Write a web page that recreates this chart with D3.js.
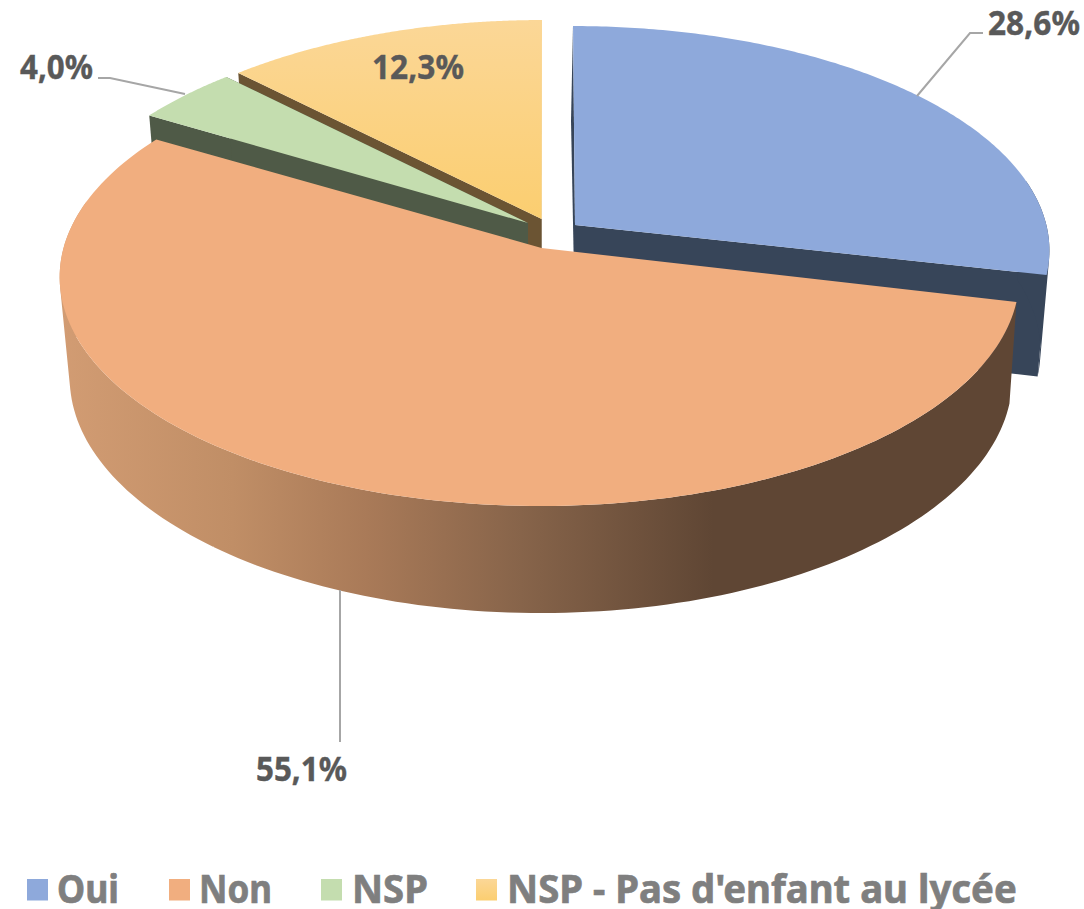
<!DOCTYPE html>
<html><head><meta charset="utf-8">
<script src="https://cdn.jsdelivr.net/npm/d3@7/dist/d3.min.js"></script>
<style>html,body{margin:0;padding:0;background:#fff}svg{display:block}</style>
</head><body><svg id="c" width="1084" height="909"></svg>
<script>
const categories = ["Oui","Non","NSP","NSP - Pas d'enfant au lycée"];
const values = [28.6,55.1,4.0,12.3];
const valueLabels = ["28,6%","55,1%","4,0%","12,3%"];
const topColors = ["#8ea9db","#f1ae7f","#c4ddaf","#fcd58f"];
const cutColors = ["#374559","#614634","#4f5a47","#6b5433"];

const svg = d3.select("#c");
const defs = svg.append("defs");
const font = "'Noto Sans','DejaVu Sans',sans-serif";

// Perspective projection of the unit disc
const topPlane = {aL:478, aR:475, b:225.8, k:0.118, y0:250, x0:541};
const botPlane = {aL:468, aR:468, b:232, k:0.118, y0:350, x0:541};
function proj(pl, th){
  const u=Math.sin(th), v=-Math.cos(th), w=1-pl.k*v;
  return [(u>0?pl.aR:pl.aL)*u/w, pl.b*v/w];   // relative to plane centre
}
// per-slice explosion: apex shift, rim shift, rim scale, extra shift of the lower rim
const apexShift = [[34,-25],[0.5,-2],[-13,-27],[0.7,-31]];
const rimShift  = [[32,-26],[0,0],[-7,-24],[1,-28]];
const rimScale  = [[0.996,0.98],[1,1],[1,1],[0.987,1]];
const botShift  = [[-2,0],[0,0],[0,0],[0,0]];

const pie = d3.pie().sort(null).value(d=>d).startAngle(0).endAngle(2*Math.PI);
const arcs = pie(values);
const line = d3.line();

const g1 = defs.append("linearGradient").attr("id","wall").attr("gradientUnits","userSpaceOnUse")
  .attr("x1",60).attr("x2",1020).attr("y1",0).attr("y2",0);
[[0,"#d29c73"],[0.18,"#c08e66"],[0.32,"#a97a58"],[0.48,"#87644a"],[0.68,"#5f4634"],[1,"#5f4634"]]
  .forEach(s=>g1.append("stop").attr("offset",s[0]).attr("stop-color",s[1]));
const g2 = defs.append("linearGradient").attr("id","yel").attr("x1",0).attr("x2",0).attr("y1",0).attr("y2",1);
[[0,"#fbd797"],[1,"#fbce70"]].forEach(s=>g2.append("stop").attr("offset",s[0]).attr("stop-color",s[1]));

function rimTop(i,th){
  const p=proj(topPlane,th);
  return [topPlane.x0+p[0]*rimScale[i][0]+rimShift[i][0], topPlane.y0+p[1]*rimScale[i][1]+rimShift[i][1]];
}
function rimBot(i,th){
  const p=proj(botPlane,th);
  return [botPlane.x0+p[0]*rimScale[i][0]+rimShift[i][0]+botShift[i][0], botPlane.y0+p[1]*rimScale[i][1]+rimShift[i][1]+botShift[i][1]];
}

function drawSlice(i){
  const d=arcs[i], as=apexShift[i];
  const wallFill = i===1 ? "url(#wall)" : cutColors[i];
  const g = svg.append("g");
  const apexT=[topPlane.x0+as[0],topPlane.y0+as[1]], apexB=[botPlane.x0+as[0],botPlane.y0+as[1]];
  const thetas=d3.range(0,161).map(t=>d.startAngle+(d.endAngle-d.startAngle)*t/160);
  // cut faces
  if(i!==1) [d.startAngle,d.endAngle].forEach(th=>{
    g.append("path").attr("fill",cutColors[i])
     .attr("d",line([apexT,rimTop(i,th),rimBot(i,th),apexB])+"Z");
  });
  // outer wall: one path of consistently wound quads, so no seams appear
  let wall="";
  d3.pairs(thetas).forEach(([a,b])=>{
    if(Math.cos(a)>0.2) return;   // the back of the pie is hidden
    let q=[rimTop(i,a),rimTop(i,b),rimBot(i,b),rimBot(i,a)];
    if(d3.polygonArea(q)<0) q=q.reverse();
    wall+=line(q)+"Z";
  });
  if(wall) g.append("path").attr("fill",wallFill).attr("d",wall);
  // top face
  const rim=thetas.map(t=>rimTop(i,t));
  g.append("path").attr("fill",i===3?"url(#yel)":topColors[i])
   .attr("d",line([apexT,...rim])+"Z");
}
// painter's order: back slices first
[3,2,0,1].forEach(drawSlice);

// leader lines
const leaders=[[[917,96],[970,33],[983,33]],[[340,590],[340,742]],[[185,94],[110,78],[98,78]]];
leaders.forEach(l=>svg.append("path").attr("d",line(l)).attr("fill","none").attr("stroke","#a6a6a6").attr("stroke-width",2));

// text fitted horizontally to a target width
function fitText(sel,x,y,width){
  const w=sel.node().getComputedTextLength();
  sel.attr("transform",`translate(${x},${y}) scale(${width/w},1)`);
}

// data labels: [x start, baseline, width]
const labelPos=[[988,35,92],[256,781,91],[20,79,73],[372,79,92]];
valueLabels.forEach((t,i)=>{
  const s=svg.append("text").text(t)
    .attr("font-family",font).attr("font-weight",700).attr("font-size",34)
    .attr("fill","#595959").attr("stroke","#595959").attr("stroke-width",0.4);
  fitText(s,labelPos[i][0],labelPos[i][1],labelPos[i][2]);
});

// legend
const legendPos=[[27,57,62],[169,199,73],[321,352,76],[476,507,510]];
categories.forEach((c,i)=>{
  const p=legendPos[i];
  svg.append("rect").attr("x",p[0]).attr("y",879).attr("width",21).attr("height",21.5)
    .attr("fill",i===3?"url(#yel)":topColors[i]);
  const s=svg.append("text").text(c)
    .attr("font-family",font).attr("font-weight",700).attr("font-size",39)
    .attr("fill","#7f7f7f").attr("stroke","#7f7f7f").attr("stroke-width",0.7);
  fitText(s,p[1],903,p[2]);
});
</script></body></html>
